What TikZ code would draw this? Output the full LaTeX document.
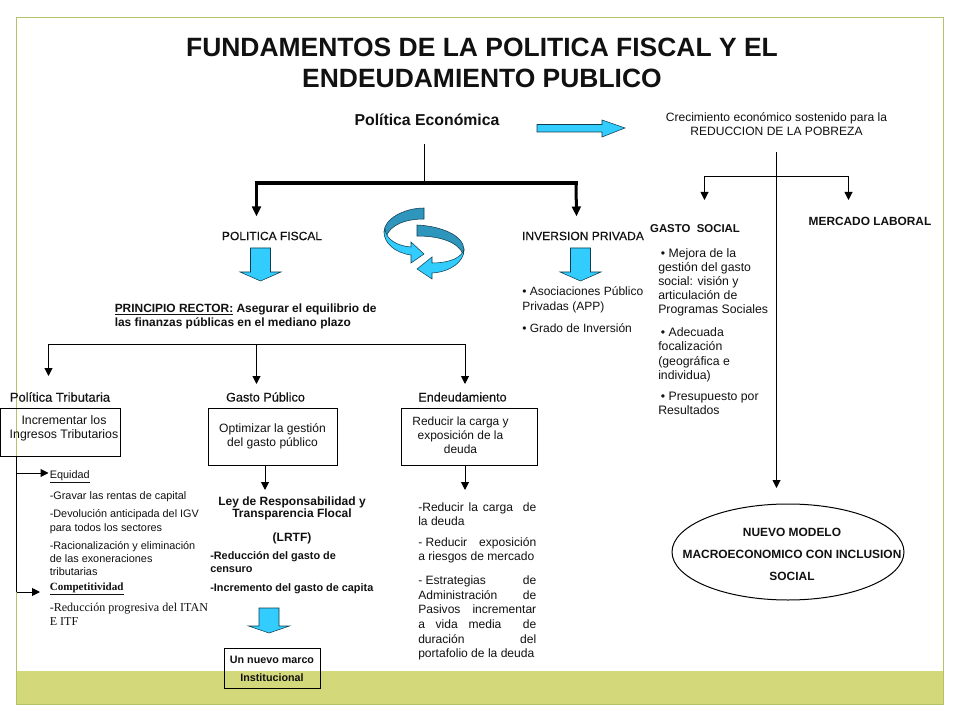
\documentclass[tikz,border=0pt]{standalone}
\usepackage{fontspec}
\setmainfont{Liberation Sans}
\newfontfamily\serifa{Liberation Serif}
\newfontfamily\semib[FakeBold=0.25]{Liberation Sans}
\usetikzlibrary{arrows.meta,shapes.geometric}
\definecolor{frameol}{HTML}{B4C26A}
\definecolor{bandol}{HTML}{D3D97B}
\definecolor{cyanb}{HTML}{33CCFF}
\definecolor{tealb}{HTML}{2E95BC}
\definecolor{ink}{HTML}{111111}
\newcommand{\fs}[2]{\fontsize{#1}{#2}\selectfont}
\newcommand{\jl}[2]{\hbox to 88.5pt{#1\hfill #2}}
\tikzset{
 x=0.75pt,y=-0.75pt,
 txt/.style={inner sep=0pt,text=ink,anchor=north west,align=left},
 ctr/.style={inner sep=0pt,text=ink,anchor=center,align=center},
 tiny/.style={font=\fs{8.15}{10}},
 wire/.style={draw=black,line width=0.75pt},
 wirea/.style={wire,-{Triangle[length=6pt,width=6pt]}},
 heavy/.style={draw=black,line width=3pt},
 heavya/.style={draw=black,line width=2.25pt,-{Triangle[length=7.5pt,width=6.5pt]}},
 boxn/.style={draw=black,line width=0.75pt,inner sep=0pt,align=center,text=ink},
 blockb/.style={fill=cyanb,draw=black!70!cyanb,line width=0.4pt,line join=miter},
 swd/.style={fill=tealb,draw=black!60!tealb,line width=0.4pt},
}
\newcommand{\blockdown}[4]{% cx top shoulder tip
 \path[blockb] (#1-10,#2) -- (#1+10,#2) -- (#1+10,#3) -- (#1+20.5,#3) -- (#1,#4) -- (#1-20.5,#3) -- (#1-10,#3) -- cycle;}
\begin{document}
\begin{tikzpicture}
\useasboundingbox (0,0) rectangle (960,720);
% frame
\fill[white] (0,0) rectangle (960,720);
\fill[bandol] (16.5,671) rectangle (943.5,704.5);
\draw[frameol,line width=1pt] (16.5,17.5) rectangle (943.5,704.5);
% title
\node[ctr,font=\bfseries\fs{19.84}{23.2}] (title) at (482,62.5) {FUNDAMENTOS DE LA POLITICA FISCAL Y EL\\ENDEUDAMIENTO PUBLICO};
\node[ctr,font=\bfseries\fs{11.85}{14}] (pe) at (427,120) {Política Económica};
\path[blockb] (537,124.5) -- (602,124.5) -- (602,120) -- (625,128) -- (602,137) -- (602,132) -- (537,132) -- cycle;
\node[ctr,font=\fs{9.05}{11}] (crec) at (776.5,124) {Crecimiento económico sostenido para la\\REDUCCION DE LA POBREZA};
% upper tree
\coordinate (peb) at (424,144);
\coordinate (pej) at (424,183.5);
\coordinate (hl) at (256.5,183.5);
\coordinate (hr) at (576,183.5);
\coordinate (al) at (256.5,216.5);
\coordinate (ar) at (576.5,216.5);
\draw[wire] (peb) -- (pej);
\draw[heavy,line cap=rect] (hl) -- (hr);
\draw[heavya] (hl) -- (al);
\draw[heavya] (hr) -- (ar);
\node[ctr,font=\semib\fs{9}{10}] (pf) at (272,236) {POLITICA FISCAL};
\node[ctr,font=\semib\fs{9.05}{10}] (ip) at (583,236) {INVERSION PRIVADA};
% swirl
\path[swd] (424,208) .. controls (404,208) and (384,219) .. (384,232) -- (386,237) .. controls (390,225) and (405,219) .. (424,219) -- cycle;
\path[blockb] (385,229) .. controls (386,240) and (398,246) .. (411,247) -- (411,242) -- (424,254) -- (411,263) -- (411,255) .. controls (395,253) and (384,243) .. (384,232) -- cycle;
\path[swd] (417,225) .. controls (440,226) and (464,235) .. (464,250) -- (463,254) .. controls (458,242) and (440,236) .. (417,236) -- cycle;
\path[blockb] (464,250) .. controls (464,262) and (450,272) .. (432,273) -- (432,279) -- (417,269) -- (432,257) -- (432,263) .. controls (445,263) and (458,260) .. (463,252) -- cycle;
% block arrows
\blockdown{260.5}{248}{272}{281}
\blockdown{580.5}{248}{272}{281}
\node[txt,font=\fs{9}{10.9}] (app) at (522,286.5) {• Asociaciones Público\\Privadas (APP)};
\node[txt,font=\fs{9}{10.9}] (gi) at (522,323.5) {• Grado de Inversión};
\node[txt,font=\fs{8.95}{10.3}] (pr) at (114.5,303.5) {\textbf{\underline{PRINCIPIO RECTOR:} Asegurar el equilibrio de}\\\textbf{las finanzas públicas en el mediano plazo}};
% lower tree
\coordinate (l0) at (48.5,344);
\coordinate (l1) at (256.5,344);
\coordinate (l2) at (465,344);
\coordinate (t0) at (48.5,376);
\coordinate (t1) at (256.5,384);
\coordinate (t2) at (465,384);
\draw[wire] (t2 |- l2) -- (l0);
\draw[wirea] (l0) -- (t0);
\draw[wirea] (l1) -- (t1);
\draw[wirea] (l2) -- (t2);
\node[ctr,font=\semib\fs{9.7}{10}] (pt) at (60,397) {Política Tributaria};
\node[ctr,font=\semib\fs{9.5}{10}] (gp) at (265.5,397) {Gasto Público};
\node[ctr,font=\semib\fs{9.45}{10}] (en) at (462.5,397) {Endeudamiento};
% boxes
\node[boxn,minimum width=90pt,minimum height=36pt] (b1) at (60,432) {};
\node[ctr,font=\fs{9.25}{10.6}] (b1t) at (64,428) {Incrementar los\\Ingresos Tributarios};
\node[boxn,minimum width=96.75pt,minimum height=42.75pt] (b2) at (272.5,436.5) {};
\node[ctr,font=\fs{9.05}{10.6}] (b2t) at (272.5,436) {Optimizar la gestión\\del gasto público};
\node[boxn,minimum width=102pt,minimum height=42.75pt] (b3) at (469,436.5) {};
\node[ctr,font=\fs{8.95}{10.6}] (b3t) at (460.5,435) {Reducir la carga y\\exposición de la\\deuda};
% left branch
\coordinate (v0) at (16.5,456);
\coordinate (v1) at (16.5,473);
\coordinate (v2) at (16.5,592);
\coordinate (e1) at (48.5,473);
\coordinate (e2) at (40,592);
\draw[wire] (v0) -- (v2);
\draw[wirea] (v1) -- (e1);
\draw[wirea] (v2) -- (e2);
\node[txt,tiny] (eq) at (49.5,470.5) {\underline{Equidad}};
\node[txt,tiny] (g1) at (49.5,491) {-Gravar las rentas de capital};
\node[txt,tiny] (g2) at (49.5,509.5) {-Devolución anticipada del IGV\\para todos los sectores};
\node[txt,font=\fs{8.15}{9.6}] (g3) at (49.5,541.5) {-Racionalización y eliminación\\de las exoneraciones\\tributarias};
\node[txt,font=\serifa\bfseries\fs{8.3}{10}] (co) at (49.5,582.5) {\underline{Competitividad}};
\node[txt,font=\serifa\fs{9.05}{11}] (co1) at (49.5,602.5) {-Reducción progresiva del ITAN\\E ITF};
% center
\coordinate (c1) at (265,465);
\coordinate (c2) at (265,490);
\draw[wirea] (c1) -- (c2);
\node[ctr,font=\bfseries\fs{9}{9.5}] (ley) at (292,508.5) {Ley de Responsabilidad y\\Transparencia Flocal};
\node[ctr,font=\bfseries\fs{9}{10}] (lrtf) at (292,538) {(LRTF)};
\node[txt,font=\bfseries\fs{8.15}{10}] (r1) at (210,551) {-Reducción del gasto de\\censuro};
\node[txt,font=\bfseries\fs{8.15}{10}] (r2) at (210,583) {-Incremento del gasto de capita};
\blockdown{269}{608}{626}{633}
\node[boxn,minimum width=72pt,minimum height=29.5pt] (bn) at (272,668.5) {};
\node[ctr,font=\bfseries\fs{8.05}{14}] (bnt) at (272,669) {Un nuevo marco\\Institucional};
% right of center
\coordinate (d1) at (465,465);
\coordinate (d2) at (465,490);
\draw[wirea] (d1) -- (d2);
\node[txt,font=\fs{9.05}{11}] (d3) at (418,502) {\jl{-Reducir\hfill la\hfill carga}{\hfill de}\\la deuda};
\node[txt,font=\fs{9.05}{11}] (d4) at (418,537) {\jl{- Reducir}{exposición}\\a riesgos de mercado};
\node[txt,font=\fs{9.05}{11}] (d5) at (418,575.5) {\jl{- Estrategias}{de}\\\jl{Administración}{de}\\\jl{Pasivos}{incrementar}\\\jl{a\hfill vida\hfill media}{\hfill de}\\\jl{duración}{del}\\portafolio de la deuda};
% right tree
\coordinate (s0) at (776.5,152);
\coordinate (sj) at (776.5,176.5);
\coordinate (s1) at (704.5,176.5);
\coordinate (s2) at (848.5,176.5);
\coordinate (s1t) at (704.5,200);
\coordinate (s2t) at (848.5,200);
\coordinate (s3) at (776.5,488);
\draw[wirea] (s0) -- (s3);
\draw[wire] (s1) -- (s2);
\draw[wirea] (s1) -- (s1t);
\draw[wirea] (s2) -- (s2t);
\node[ctr,font=\bfseries\fs{8.9}{10}] (ml) at (870,221) {MERCADO LABORAL};
\node[ctr,font=\bfseries\fs{8.55}{10}] (gs) at (695,229) {GASTO\ \ SOCIAL};
\node[txt,font=\fs{9.2}{10.65}] (m1) at (658,248) {\hspace*{2pt}• Mejora de la\\gestión del gasto\\social: visión y\\articulación de\\Programas Sociales};
\node[txt,font=\fs{9.2}{10.65}] (m2) at (658,327.5) {\hspace*{2pt}• Adecuada\\focalización\\(geográfica e\\individua)};
\node[txt,font=\fs{9.2}{10.65}] (m3) at (658,392) {\hspace*{2pt}• Presupuesto por\\Resultados};
\node[draw=black,line width=0.75pt,ellipse,minimum width=174pt,minimum height=72pt,inner sep=0pt] (el) at (788,552) {};
\node[ctr,font=\bfseries\fs{8.95}{16.5}] (elt) at (792,554) {NUEVO MODELO\\MACROECONOMICO CON INCLUSION\\SOCIAL};
\end{tikzpicture}
\end{document}
